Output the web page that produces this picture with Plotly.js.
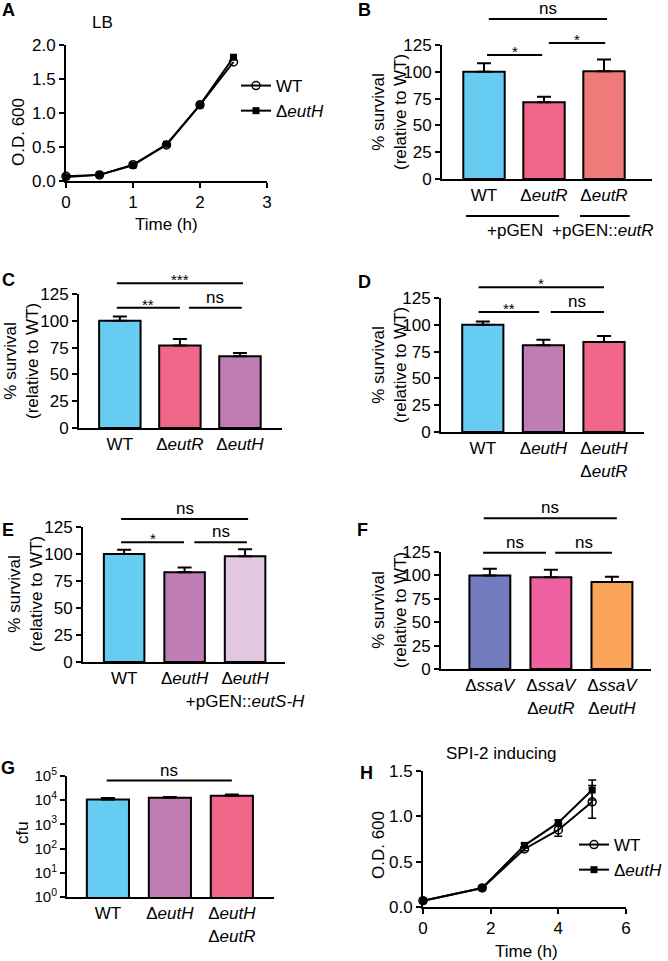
<!DOCTYPE html>
<html><head><meta charset="utf-8">
<script src="https://cdn.plot.ly/plotly-3.0.1.min.js"></script>
<style>html,body{margin:0;padding:0;background:#fff}#fig{width:668px;height:961px}</style>
</head><body><div id="fig"></div>
<script>
// ---------------- DATA ----------------
// Panel A (LB growth)
const timeA = [0, 0.5, 1, 1.5, 2, 2.5];
const wtA = [0.07, 0.09, 0.24, 0.53, 1.12, 1.75];
const euthA = [0.06, 0.09, 0.23, 0.54, 1.12, 1.82];
// Panel B
const catsB = ['WT', 'Δ<i>eutR</i>', 'Δ<i>eutR</i>'];
const valsB = [100, 71.5, 100.5];
const errB = [8, 5.3, 11];
// Panel C
const catsC = ['WT', 'Δ<i>eutR</i>', 'Δ<i>eutH</i>'];
const valsC = [100, 77, 67];
const errC = [4, 6, 3];
// Panel D
const catsD = ['WT', 'Δ<i>eutH</i>', 'Δ<i>eutH</i><br>Δ<i>eutR</i>'];
const valsD = [100, 81, 84];
const errD = [3, 5, 5.5];
// Panel E
const catsE = ['WT', 'Δ<i>eutH</i>', 'Δ<i>eutH</i><br>+pGEN::<i>eutS-H</i>'];
const valsE = [100, 83, 98];
const errE = [4, 4.5, 6.5];
// Panel F
const catsF = ['Δ<i>ssaV</i>', 'Δ<i>ssaV</i><br>Δ<i>eutR</i>', 'Δ<i>ssaV</i><br>Δ<i>eutH</i>'];
const valsF = [100, 98, 93];
const errF = [7, 8, 5.5];
// Panel G (cfu)
const catsG = ['WT', 'Δ<i>eutH</i>', 'Δ<i>eutH</i><br>Δ<i>eutR</i>'];
const valsG = [10700, 12500, 15100];
const errG = [1500, 1000, 2200];
const tickValsG = [1, 10, 100, 1000, 10000, 100000];
const tickTextG = ['10<sup>0</sup>', '10<sup>1</sup>', '10<sup>2</sup>', '10<sup>3</sup>', '10<sup>4</sup>', '10<sup>5</sup>'];
// Panel H (SPI-2 inducing growth)
const timeH = [0, 1.75, 3, 4, 5];
const wtH = [0.07, 0.21, 0.64, 0.85, 1.16];
const wtHerr = [0.01, 0.01, 0.02, 0.07, 0.18];
const euthH = [0.07, 0.21, 0.68, 0.93, 1.29];
const euthHerr = [0.01, 0.01, 0.02, 0.03, 0.11];
const survTicks = [0, 25, 50, 75, 100, 125];

// ---------------- STYLE / LAYOUT ----------------
const FONT = 'Liberation Sans, Arial, sans-serif';
const FS = 17;
const W = 668, H = 961;
const cBlue = '#66CCF1', cPink = '#EF6688', cSalmon = '#F07A7A', cPurple = '#C07DB3',
      cLav = '#E2C7E0', cSlate = '#727BBE', cPinkF = '#EF60A0', cOrange = '#F9A458';

function px2x(a, b) { return [a / W, b / W]; }
function px2y(top, bot) { return [1 - bot / H, 1 - top / H]; }

const baseAx = {
  showline: true, linecolor: '#000', linewidth: 2, showgrid: false, zeroline: false,
  ticks: 'outside', ticklen: 5, tickwidth: 2, tickcolor: '#000',
  tickfont: { family: FONT, size: FS, color: '#000' }, fixedrange: true
};
function ax(extra) { return Object.assign({}, baseAx, extra); }

// panel geometry (domains in px), category ranges
const P = {
  B: { n: 2, xd: [442, 652], yd: [45, 179], xr: [-0.7, 2.8], ymax: 125 },
  C: { n: 3, xd: [79, 282], yd: [294, 428], xr: [-0.68, 2.7], ymax: 125 },
  D: { n: 4, xd: [441, 644], yd: [298, 432], xr: [-0.69, 2.66], ymax: 125 },
  E: { n: 5, xd: [83, 285], yd: [527, 662], xr: [-0.68, 2.66], ymax: 125 },
  F: { n: 6, xd: [441, 651], yd: [552, 669], xr: [-0.8, 2.64], ymax: 125 },
  G: { n: 7, xd: [67, 274], yd: [776, 897], xr: [-0.66, 2.68], ymax: 5, log: true },
};

const layout = {
  width: W, height: H, margin: { l: 0, r: 0, t: 0, b: 0 },
  paper_bgcolor: '#fff', plot_bgcolor: 'rgba(0,0,0,0)',
  font: { family: FONT, size: FS, color: '#000' },
  showlegend: true,
  legend: { x: 236 / W, xanchor: 'left', y: 1 - 68 / H, yanchor: 'top', bgcolor: 'rgba(0,0,0,0)',
            font: { family: FONT, size: FS }, itemwidth: 30, tracegroupgap: 0 },
  legend2: { x: 574 / W, xanchor: 'left', y: 1 - 827 / H, yanchor: 'top', bgcolor: 'rgba(0,0,0,0)',
             font: { family: FONT, size: FS }, itemwidth: 30, tracegroupgap: 0 },
  shapes: [], annotations: []
};

// Panel A axes
layout.xaxis = ax({ domain: px2x(66, 267), range: [0, 3], tickvals: [0, 1, 2, 3], anchor: 'y' });
layout.yaxis = ax({ domain: px2y(45, 181), range: [0, 2], tickvals: [0, 0.5, 1, 1.5, 2], tickformat: '.1f', anchor: 'x' });
// Panel H axes
layout.xaxis8 = ax({ domain: px2x(423, 626), range: [0, 6], tickvals: [0, 2, 4, 6], anchor: 'y8' });
layout.yaxis8 = ax({ domain: px2y(771, 907), range: [0, 1.5], tickvals: [0, 0.5, 1, 1.5], tickformat: '.1f', anchor: 'x8' });

const cats = { B: catsB, C: catsC, D: catsD, E: catsE, F: catsF, G: catsG };
for (const k of Object.keys(P)) {
  const p = P[k];
  p.xa = 'x' + p.n; p.ya = 'y' + p.n;
  layout['xaxis' + p.n] = ax({ domain: px2x(p.xd[0], p.xd[1]), range: p.xr, tickvals: [0, 1, 2],
    ticktext: cats[k], ticks: '', tickangle: 0, anchor: p.ya });
  if (p.log) {
    layout['yaxis' + p.n] = ax({ domain: px2y(p.yd[0], p.yd[1]), type: 'log', range: [0, 5],
      tickvals: tickValsG, ticktext: tickTextG, tickfont: { family: FONT, size: 15, color: '#000' }, anchor: p.xa });
  } else {
    layout['yaxis' + p.n] = ax({ domain: px2y(p.yd[0], p.yd[1]), range: [0, 125], tickvals: survTicks, anchor: p.xa });
  }
}

function dx(p, v) { return (v - p.xr[0]) / (p.xr[1] - p.xr[0]); }
function dy(p, v) { return v / p.ymax; }
// category value -> paper x ; domain fraction -> paper y
function paperX(p, v) { return (p.xd[0] + dx(p, v) * (p.xd[1] - p.xd[0])) / W; }
function paperY(p, f) { return 1 - (p.yd[1] - f * (p.yd[1] - p.yd[0])) / H; }

function sig(p, x0, x1, yv, label) {
  layout.shapes.push({ type: 'line', xref: 'paper', yref: 'paper',
    x0: paperX(p, x0), x1: paperX(p, x1), y0: paperY(p, dy(p, yv)), y1: paperY(p, dy(p, yv)),
    line: { color: '#000', width: 2 } });
  const star = label.indexOf('*') >= 0;
  layout.annotations.push({ xref: 'paper', yref: 'paper', x: paperX(p, (x0 + x1) / 2), y: paperY(p, dy(p, yv)),
    xanchor: 'center', yanchor: 'bottom', yshift: star ? -7 : -1, text: label, showarrow: false,
    font: { family: FONT, size: star ? 15 : FS, color: '#000' } });
}

// significance brackets
sig(P.B, 0.08, 2.05, 149.3, 'ns');
sig(P.B, 0.05, 0.97, 115.7, '*');
sig(P.B, 1.08, 2.02, 126.9, '*');
sig(P.C, -0.05, 2.05, 135, '***');
sig(P.C, -0.05, 1.0, 112.2, '**');
sig(P.C, 1.15, 2.03, 112.2, 'ns');
sig(P.D, -0.07, 2.0, 135, '*');
sig(P.D, -0.07, 0.93, 112, '**');
sig(P.D, 1.12, 2.0, 112, 'ns');
sig(P.E, -0.05, 2.05, 132.4, 'ns');
sig(P.E, -0.05, 0.99, 110.8, '*');
sig(P.E, 1.16, 2.03, 110.8, 'ns');
sig(P.F, -0.1, 2.08, 161, 'ns');
sig(P.F, -0.11, 0.92, 124.3, 'ns');
sig(P.F, 1.07, 2.0, 124.3, 'ns');
sig(P.G, -0.02, 2.0, 4.81, 'ns');

// B bottom plasmid brackets
function under(p, x0, x1, yfrac, label, lx) {
  layout.shapes.push({ type: 'line', xref: 'paper', yref: 'paper',
    x0: paperX(p, x0), x1: paperX(p, x1), y0: paperY(p, yfrac), y1: paperY(p, yfrac), line: { color: '#000', width: 2 } });
  layout.annotations.push({ xref: 'paper', yref: 'paper', x: paperX(p, lx), y: paperY(p, yfrac),
    xanchor: 'center', yanchor: 'top', yshift: -3, text: label, showarrow: false, font: { family: FONT, size: FS, color: '#000' } });
}
under(P.B, -0.3, 1.25, -0.276, '+pGEN', 0.52);
under(P.B, 1.6, 2.43, -0.276, '+pGEN::<i>eutR</i>', 1.98);

// text annotations in paper px
function txt(x, y, text, opts) {
  layout.annotations.push(Object.assign({ xref: 'paper', yref: 'paper', x: x / W, y: 1 - y / H, text: text,
    showarrow: false, xanchor: 'center', yanchor: 'middle', font: { family: FONT, size: FS, color: '#000' } }, opts || {}));
}
// panel letters
const bold = { font: { family: FONT, size: 18, color: '#000' } };
txt(8, 10, '<b>A</b>', bold); txt(365, 10, '<b>B</b>', bold);
txt(8, 280, '<b>C</b>', bold); txt(365, 282, '<b>D</b>', bold);
txt(8, 530, '<b>E</b>', bold); txt(362, 530, '<b>F</b>', bold);
txt(8, 768, '<b>G</b>', bold); txt(366, 773, '<b>H</b>', bold);
// titles
txt(102, 22, 'LB');
txt(501, 753, 'SPI-2 inducing');
txt(166, 225, 'Time (h)');
txt(526, 951, 'Time (h)');
// y titles
const rot = { textangle: -90 };
txt(18, 132, 'O.D. 600', rot);
txt(378, 845, 'O.D. 600', rot);
txt(22, 833, 'cfu', rot);
const surv = '% survival<br>(relative to WT)';
txt(389, 112, surv, rot);
txt(22, 361, surv, rot);
txt(389, 365, surv, rot);
txt(25, 594, surv, rot);
txt(389, 610, surv, rot);

// ---------------- TRACES ----------------
const traces = [];
const lineBlack = { color: '#000', width: 2 };
traces.push({ type: 'scatter', mode: 'lines+markers', name: 'WT', x: timeA, y: wtA, xaxis: 'x', yaxis: 'y',
  line: lineBlack, marker: { symbol: 'circle-open', size: 8, color: '#000', line: { width: 1.5 } }, cliponaxis: false });
traces.push({ type: 'scatter', mode: 'lines+markers', name: 'Δ<i>eutH</i>', x: timeA, y: euthA, xaxis: 'x', yaxis: 'y',
  line: lineBlack, marker: { symbol: 'square', size: 7, color: '#000' }, cliponaxis: false });

const barStyle = (vals, err, colors, p, width) => ({
  type: 'bar', x: [0, 1, 2], y: vals, xaxis: p.xa, yaxis: p.ya, width: width, showlegend: false,
  marker: { color: colors, line: { color: '#000', width: 2 } },
  error_y: { type: 'data', symmetric: false, array: err, arrayminus: [0, 0, 0], color: '#000', thickness: 2, width: 7 }
});
traces.push(barStyle(valsB, errB, [cBlue, cPink, cSalmon], P.B, 0.69));
traces.push(barStyle(valsC, errC, [cBlue, cPink, cPurple], P.C, 0.69));
traces.push(barStyle(valsD, errD, [cBlue, cPurple, cPink], P.D, 0.68));
traces.push(barStyle(valsE, errE, [cBlue, cPurple, cLav], P.E, 0.67));
traces.push(barStyle(valsF, errF, [cSlate, cPinkF, cOrange], P.F, 0.67));
traces.push(barStyle(valsG, errG, [cBlue, cPurple, cPink], P.G, 0.68));

traces.push({ type: 'scatter', mode: 'lines+markers', name: 'WT', x: timeH, y: wtH, xaxis: 'x8', yaxis: 'y8', legend: 'legend2',
  line: lineBlack, marker: { symbol: 'circle-open', size: 8, color: '#000', line: { width: 1.5 } }, cliponaxis: false,
  error_y: { type: 'data', array: wtHerr, color: '#000', thickness: 1.5, width: 4 } });
traces.push({ type: 'scatter', mode: 'lines+markers', name: 'Δ<i>eutH</i>', x: timeH, y: euthH, xaxis: 'x8', yaxis: 'y8', legend: 'legend2',
  line: lineBlack, marker: { symbol: 'square', size: 7, color: '#000' }, cliponaxis: false,
  error_y: { type: 'data', array: euthHerr, color: '#000', thickness: 1.5, width: 4 } });

Plotly.newPlot('fig', traces, layout, { staticPlot: true, displayModeBar: false });
</script></body></html>
